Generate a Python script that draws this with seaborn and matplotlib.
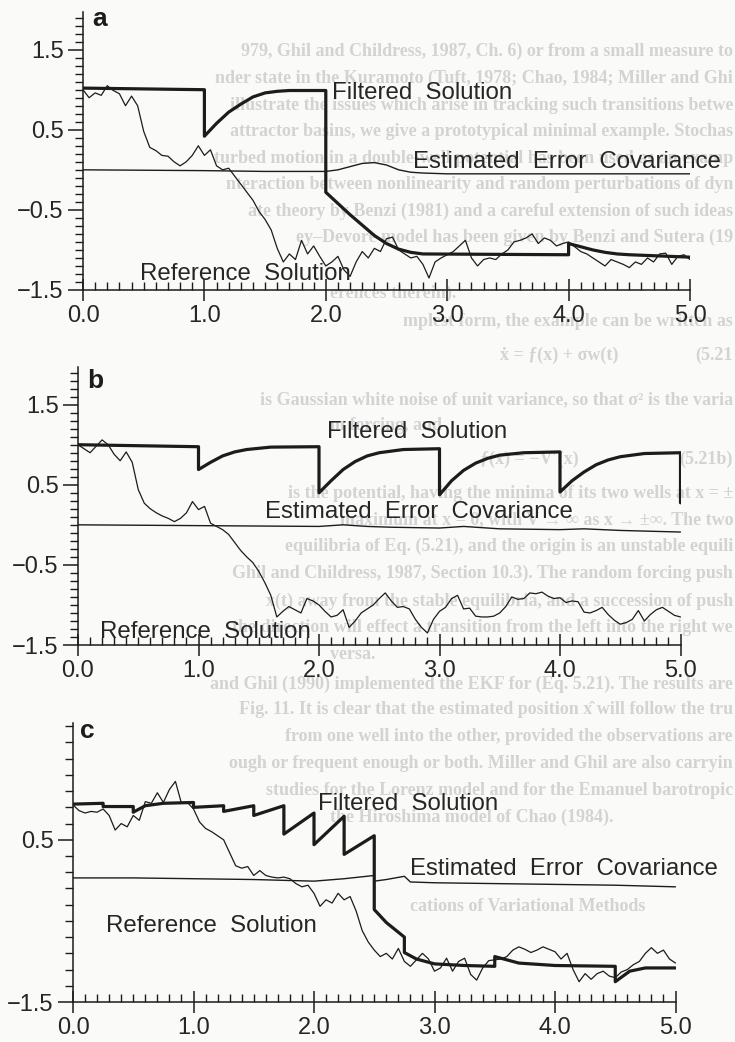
import numpy as np
import matplotlib
matplotlib.use("Agg")
import matplotlib.pyplot as plt
from matplotlib.ticker import MultipleLocator, FixedLocator, FuncFormatter
import seaborn as sns

# ---------------------------------------------------------------- data
# sampling times of the reference trajectories
time = np.round(np.arange(0, 101) * 0.05, 2)

# panel a: reference trajectory
ref_a = [1.00, 0.90, 0.96, 0.93, 1.05, 0.99, 0.95, 0.80, 0.92, 0.80,
         0.48, 0.28, 0.24, 0.18, 0.17, 0.10, 0.05, 0.10, 0.18, 0.30,
         0.18, 0.25, 0.05, 0.00, 0.02, -0.08, -0.18, -0.28, -0.38, -0.52,
         -0.62, -0.75, -0.98, -1.15, -1.05, -1.12, -0.88, -1.05, -0.95, -1.08,
         -1.20, -1.15, -1.08, -1.25, -1.33, -1.15, -1.02, -1.10, -0.98, -1.02,
         -0.86, -0.84, -1.00, -1.05, -1.10, -1.08, -1.18, -1.35, -1.15, -1.10,
         -1.06, -1.02, -0.95, -0.88, -1.10, -1.20, -1.12, -1.10, -1.12, -1.05,
         -1.00, -0.90, -0.88, -0.85, -0.80, -0.92, -0.85, -0.88, -0.95, -0.92,
         -0.90, -0.96, -1.02, -1.05, -1.10, -1.15, -1.20, -1.12, -1.15, -1.18,
         -1.22, -1.15, -1.18, -1.10, -1.15, -1.05, -1.04, -1.18, -1.08, -1.06,
         -1.12]
filt_a_t = [0.0, 1.0, 1.0, 1.1, 1.2, 1.3, 1.4, 1.5, 1.6, 1.7, 2.0, 2.0,
            2.1, 2.2, 2.3, 2.4, 2.5, 2.6, 2.7, 2.8, 4.0, 4.0, 4.1, 4.2,
            4.3, 4.4, 4.5, 5.0]
filt_a = [1.02, 1.00, 0.42, 0.58, 0.72, 0.82, 0.91, 0.96, 0.98, 0.99, 0.99, -0.28,
          -0.42, -0.56, -0.69, -0.82, -0.92, -0.99, -1.03, -1.05, -1.06, -0.92, -0.96, -1.00,
          -1.03, -1.05, -1.06, -1.09]
cov_a_t = [0.0, 0.5, 1.0, 1.5, 2.0, 2.1, 2.2, 2.3, 2.4, 2.5, 2.6, 2.7, 2.8, 3.0, 4.0, 5.0]
cov_a = [0.0, -0.005, -0.01, -0.02, -0.02, 0.0, 0.04, 0.08, 0.09, 0.06, 0.0, -0.03,
         -0.04, -0.05, -0.05, -0.05]

# panel b: reference trajectory
ref_b = [1.00, 0.95, 0.90, 0.98, 1.06, 1.00, 0.88, 0.80, 0.91, 0.78,
         0.44, 0.27, 0.20, 0.15, 0.11, 0.08, 0.04, 0.08, 0.15, 0.29,
         0.19, 0.23, 0.02, -0.02, -0.06, -0.12, -0.22, -0.32, -0.40, -0.47,
         -0.58, -0.72, -0.88, -1.15, -1.08, -1.02, -1.06, -1.10, -0.92, -0.95,
         -1.00, -1.08, -1.15, -1.13, -1.06, -1.28, -1.20, -1.10, -1.05, -1.00,
         -0.92, -0.85, -0.95, -1.03, -1.02, -1.05, -1.18, -1.28, -1.35, -1.18,
         -1.08, -1.03, -0.92, -0.88, -1.05, -1.04, -1.14, -1.15, -1.15, -1.14,
         -1.10, -1.02, -0.90, -0.93, -0.92, -0.85, -0.86, -0.84, -0.89, -0.92,
         -0.91, -0.97, -0.95, -0.96, -1.09, -1.10, -1.07, -1.03, -1.12, -1.19,
         -1.24, -1.22, -1.18, -1.07, -1.20, -1.12, -1.06, -1.03, -1.08, -1.13,
         -1.15]
filt_b_t = [0.0, 1.0, 1.0, 1.1, 1.2, 1.3, 1.4, 1.6, 2.0, 2.0, 2.1, 2.2,
            2.3, 2.4, 2.5, 2.7, 3.0, 3.0, 3.1, 3.2, 3.3, 3.4, 3.5, 3.7,
            4.0, 4.0, 4.1, 4.2, 4.3, 4.4, 4.5, 4.7, 5.0, 5.0]
filt_b = [1.00, 0.975, 0.69, 0.78, 0.86, 0.91, 0.94, 0.97, 0.975, 0.40, 0.55, 0.69,
          0.79, 0.86, 0.90, 0.94, 0.95, 0.375, 0.55, 0.68, 0.77, 0.83, 0.87, 0.90,
          0.91, 0.41, 0.55, 0.66, 0.75, 0.81, 0.85, 0.89, 0.90, 0.275]
cov_b_t = [0.0, 1.0, 2.0, 2.2, 2.4, 2.6, 3.0, 3.2, 3.5, 4.0, 4.2, 4.5, 5.0]
cov_b = [0.0, -0.01, -0.02, 0.0, -0.02, -0.03, -0.04, -0.02, -0.05, -0.06, -0.05,
         -0.07, -0.09]

# panel c: reference trajectory
ref_c = [0.93, 0.86, 0.83, 0.85, 0.84, 0.88, 0.80, 0.62, 0.70, 0.66,
         0.80, 0.74, 0.97, 0.95, 1.08, 0.96, 1.12, 1.22, 0.95, 0.96,
         0.88, 0.72, 0.64, 0.60, 0.55, 0.50, 0.34, 0.18, 0.15, 0.17,
         0.06, 0.12, 0.06, 0.04, 0.03, 0.04, 0.02, -0.04, -0.08, -0.06,
         -0.16, -0.32, -0.24, -0.28, -0.16, -0.24, -0.20, -0.38, -0.62, -0.76,
         -0.86, -0.94, -0.90, -0.97, -0.84, -1.00, -1.06, -0.98, -0.90, -0.97,
         -1.12, -1.08, -0.96, -1.12, -1.00, -0.96, -1.16, -1.23, -1.08, -0.99,
         -0.98, -0.97, -0.94, -0.86, -0.82, -0.85, -0.89, -0.86, -0.82, -0.85,
         -0.88, -0.97, -0.90, -1.10, -1.25, -1.15, -1.22, -1.15, -1.12, -1.18,
         -1.20, -1.13, -1.10, -1.04, -1.00, -0.90, -0.83, -0.90, -0.86, -0.97,
         -1.02]
filt_c_t = [0.0, 0.25, 0.25, 0.5, 0.5, 0.6, 0.75, 1.0, 1.0, 1.25, 1.25, 1.5,
            1.5, 1.75, 1.75, 2.0, 2.0, 2.25, 2.25, 2.5, 2.5, 2.6, 2.75, 2.75,
            2.85, 3.0, 3.25, 3.5, 3.5, 3.7, 4.0, 4.5, 4.5, 4.62, 4.75, 5.0]
filt_c = [0.94, 0.95, 0.91, 0.91, 0.84, 0.92, 0.95, 0.96, 0.90, 0.92, 0.85, 0.92,
          0.80, 0.92, 0.57, 0.83, 0.44, 0.79, 0.32, 0.55, -0.36, -0.52, -0.70, -0.89,
          -0.97, -1.03, -1.05, -1.06, -0.94, -1.02, -1.05, -1.06, -1.25, -1.12, -1.08, -1.08]
cov_c_t = [0.0, 0.5, 1.0, 1.5, 2.0, 2.25, 2.5, 2.5, 2.6, 2.75, 2.8, 3.0, 3.5, 4.0, 4.5, 5.0]
cov_c = [0.03, 0.03, 0.02, 0.01, -0.01, 0.02, 0.06, -0.01, 0.01, 0.05, -0.02, -0.03,
         -0.04, -0.05, -0.06, -0.08]

x_ticks = [0.0, 1.0, 2.0, 3.0, 4.0, 5.0]
y_ticks_ab = [-1.5, -0.5, 0.5, 1.5]
y_ticks_c = [-1.5, 0.5]
panel_letters = ["a", "b", "c"]
series_names = ["Filtered  Solution", "Estimated  Error  Covariance", "Reference  Solution"]

# faint lines of the facing page that show through the paper;
# "r" lines run into the right edge, "l" lines start at the given x
page_lines = [
    ("r", 733, 56, "979, Ghil and Childress, 1987, Ch. 6) or from a small measure to"),
    ("r", 733, 83, "nder state in the Kuramoto (Tuft, 1978; Chao, 1984; Miller and Ghi"),
    ("r", 733, 110, "illustrate the issues which arise in tracking such transitions betwe"),
    ("r", 733, 136, "attractor basins, we give a prototypical minimal example. Stochas"),
    ("r", 733, 163, "turbed motion in a double-well potential has been used as an examp"),
    ("r", 733, 189, "nteraction between nonlinearity and random perturbations of dyn"),
    ("r", 733, 216, "ate theory by Benzi (1981) and a careful extension of such ideas"),
    ("r", 733, 242, "ey\u2013Devore model has been given by Benzi and Sutera (19"),
    ("l", 330, 298, "erences therein)."),
    ("r", 733, 326, "mplest form, the example can be written as"),
    ("l", 500, 360, "\u1e8b = \u0192(x) + \u03c3w(t)"),
    ("r", 733, 360, "(5.21"),
    ("r", 733, 404, "is Gaussian white noise of unit variance, so that \u03c3\u00b2 is the varia"),
    ("l", 330, 430, "m forcing, and"),
    ("l", 480, 464, "\u0192(x) = \u2212V\u2032(x)"),
    ("r", 733, 464, "(5.21b)"),
    ("r", 733, 498, "is the potential, having the minima of its two wells at x = \u00b1"),
    ("r", 733, 524, "maximum at x = 0, with V \u2192 \u221e as x \u2192 \u00b1\u221e. The two"),
    ("r", 733, 551, "equilibria of Eq. (5.21), and the origin is an unstable equili"),
    ("r", 733, 578, "Ghil and Childress, 1987, Section 10.3). The random forcing push"),
    ("r", 733, 606, "x(t) away from the stable equilibria, and a succession of push"),
    ("r", 733, 632, "the direction will effect a transition from the left into the right we"),
    ("l", 330, 659, "versa."),
    ("r", 733, 689, "and Ghil (1990) implemented the EKF for (Eq. 5.21). The results are"),
    ("r", 733, 714, "Fig. 11. It is clear that the estimated position x\u0302 will follow the tru"),
    ("r", 733, 741, "from one well into the other, provided the observations are"),
    ("r", 733, 768, "ough or frequent enough or both. Miller and Ghil are also carryin"),
    ("r", 733, 795, "studies for the Lorenz model and for the Emanuel barotropic"),
    ("l", 330, 822, "the Hiroshima model of Chao (1984)."),
    ("l", 410, 911, "cations of Variational Methods"),
]

# ---------------------------------------------------------------- style
sns.set_theme(style="ticks")
plt.rcParams["font.family"] = ["Liberation Sans", "DejaVu Sans"]
INK = "#1c1c1c"
TEXT = "#262626"
PAPER = "#fafaf9"
W, H = 735, 1042

fig = plt.figure(figsize=(W / 100, H / 100), dpi=100, facecolor=PAPER)

for side, x, y, s in page_lines:
    fig.text(x / W, 1 - y / H, s, fontsize=13, color="#d3d3d3",
             family=["Liberation Serif", "DejaVu Serif"], fontweight="bold",
             va="baseline", ha="right" if side == "r" else "left", zorder=-5)

# axes boxes in pixels: left, right, bottom, top
boxes = [(83, 690, 290, 12), (78, 680.5, 645, 367), (73, 675.5, 1002, 723)]
ytops = [1.97, 1.97, 1.94]

panels = [
    (ref_a, filt_a_t, filt_a, cov_a_t, cov_a),
    (ref_b, filt_b_t, filt_b, cov_b_t, cov_b),
    (ref_c, filt_c_t, filt_c, cov_c_t, cov_c),
]
label_pos = [
    [(2.05, 0.89), (2.72, 0.025), (0.47, -1.375)],
    [(2.07, 1.09), (1.55, 0.09), (0.18, -1.41)],
    [(2.03, 0.87), (2.80, 0.07), (0.27, -0.64)],
]
letter_pos = [(0.08, 1.80), (0.08, 1.71), (0.06, 1.75)]

fmt = FuncFormatter(lambda v, p: f"{v:.1f}".replace("-", "\u2212"))

for i, (ref, ft, fv, ct, cv) in enumerate(panels):
    l, r, b, t = boxes[i]
    ax = fig.add_axes([l / W, 1 - b / H, (r - l) / W, (b - t) / H])
    ax.set_facecolor("none")

    sns.lineplot(x=time, y=ref, ax=ax, color=INK, linewidth=0.9,
                 estimator=None, sort=False)
    sns.lineplot(x=ct, y=cv, ax=ax, color=INK, linewidth=1.0,
                 estimator=None, sort=False)
    sns.lineplot(x=ft, y=fv, ax=ax, color=INK, linewidth=2.3,
                 estimator=None, sort=False)

    ax.set_xlim(0, 5.0)
    ax.set_ylim(-1.5, ytops[i])
    sns.despine(ax=ax)
    for side in ("left", "bottom"):
        ax.spines[side].set_linewidth(1.1)
        ax.spines[side].set_color(INK)

    ax.xaxis.set_major_locator(FixedLocator(x_ticks))
    ax.xaxis.set_minor_locator(MultipleLocator(0.1))
    ax.xaxis.set_major_formatter(fmt)
    if i < 2:
        ax.yaxis.set_major_locator(FixedLocator(y_ticks_ab))
        ax.yaxis.set_minor_locator(MultipleLocator(0.1))
    else:
        ax.yaxis.set_major_locator(FixedLocator(y_ticks_c))
        ax.yaxis.set_minor_locator(MultipleLocator(0.2, offset=0.1))
    ax.yaxis.set_major_formatter(fmt)

    ax.tick_params(axis="x", which="major", direction="inout", length=16,
                   width=1.1, color=INK, pad=3, labelsize=17, labelcolor=TEXT)
    ax.tick_params(axis="x", which="minor", direction="in", length=6,
                   width=1.0, color=INK)
    ax.tick_params(axis="y", which="major", direction="out", length=11,
                   width=1.1, color=INK, pad=3, labelsize=17, labelcolor=TEXT)
    ax.tick_params(axis="y", which="minor", direction="out", length=6,
                   width=1.0, color=INK)

    ax.set_xlabel("")
    ax.set_ylabel("")

    for (tx, ty), name in zip(label_pos[i], series_names):
        ax.text(tx, ty, name, fontsize=17.3, color=TEXT,
                ha="left", va="baseline")
    ax.text(letter_pos[i][0], letter_pos[i][1], panel_letters[i], fontsize=19,
            color=INK, fontweight="bold", ha="left", va="baseline")

fig.savefig("out.png", dpi=100, facecolor=PAPER)
